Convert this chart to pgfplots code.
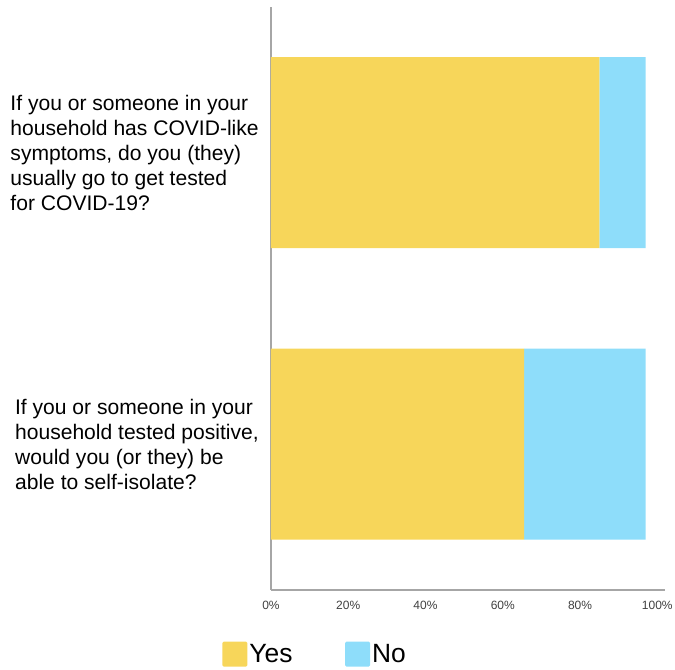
\documentclass[border=0pt]{standalone}
\usepackage{pgfplots}
\pgfplotsset{compat=1.18}
\usepackage{fontspec}
\setmainfont{Liberation Sans}
\definecolor{yesc}{HTML}{F7D65A}
\definecolor{noc}{HTML}{8EDDFA}
\begin{document}
\begin{tikzpicture}
\useasboundingbox (0,0) rectangle (506.25pt,502.5pt);
\begin{axis}[
 at={(203.25pt,60pt)}, anchor=south west,
 scale only axis, width=295.5pt, height=437.25pt,
 xbar stacked, bar width=143.25pt,
 xmin=0, xmax=102, ymin=-0.5, ymax=1.5,
 axis x line*=bottom, axis y line*=left,
 axis line style={gray!70, line width=1pt, -},
 xtick={0,20,40,60,80,100},
 xticklabels={0\%,20\%,40\%,60\%,80\%,100\%},
 ytick={0,1},
 yticklabels={{If you or someone in your\\household tested positive,\\would you (or they) be\\able to self-isolate?},
              {If you or someone in your\\household has COVID-like\\symptoms, do you (they)\\usually go to get tested\\for COVID-19?}},
 major tick length=0pt,
 xticklabel style={font=\fontsize{9}{11}\selectfont, text=black!75, yshift=-5pt},
 yticklabel style={font=\fontsize{15.8}{18.75}\selectfont, align=left, inner sep=0pt, xshift=-9pt},
 legend style={at={(-0.124,-0.11)}, anchor=west, draw=none, fill=none,
   legend columns=2, inner sep=0pt, font=\fontsize{19.8}{24}\selectfont,
   nodes={inner sep=1.5pt},
   /tikz/every even column/.append style={column sep=38pt}},
 legend cell align=left,
 legend image code/.code={\fill[#1, rounded corners=1pt] (0pt,-9.4pt) rectangle (18.75pt,9.4pt);},
]
\addplot[fill=yesc, draw=none] coordinates {(65.5,0) (85,1)};
\addplot[fill=noc, draw=none] coordinates {(31.5,0) (12,1)};
\legend{Yes,No}
\end{axis}
\end{tikzpicture}
\end{document}
